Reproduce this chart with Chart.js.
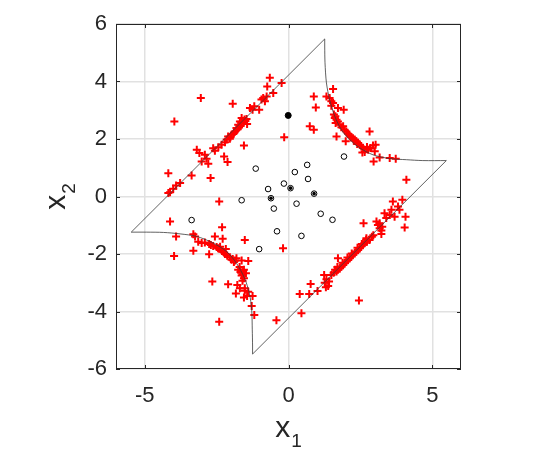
<!DOCTYPE html>
<html>
<head>
<meta charset="utf-8">
<script src="https://cdn.jsdelivr.net/npm/chart.js@4"></script>
<style>
html,body{margin:0;padding:0;background:#fff;}
#wrap{width:541px;height:452px;}
</style>
</head>
<body>
<div id="wrap"><canvas id="c" width="541" height="452"></canvas></div>
<script>
// ---- data ----
const xTicks = [-5, 0, 5];
const yTicks = [-6, -4, -2, 0, 2, 4, 6];
const xLabel = ["x", "1"];
const yLabel = ["x", "2"];

// red "+" samples
const redPlus = [
  // upper-left branch
  [-0.65,4.13],[-0.24,3.95],[-0.74,3.83],[-0.53,3.60],[-0.88,3.43],[-0.94,3.37],[-0.76,3.48],[-0.82,3.31],
  [-3.05,3.43],[-1.94,3.23],[-1.34,3.08],[-1.19,3.14],[-1.25,3.02],[-1.02,3.02],[-3.97,2.61],
  [-1.63,2.73],[-1.69,2.61],[-1.75,2.50],[-1.81,2.38],[-1.58,2.56],[-1.44,2.52],[-1.86,2.26],[-1.98,2.15],
  [-2.10,2.09],[-2.15,1.98],[-2.21,1.89],[-2.04,2.01],[-1.92,2.17],[-1.72,2.40],[-1.50,2.63],[-1.53,2.68],
  [-1.66,2.46],[-1.78,2.33],[-1.90,2.22],[-2.02,2.06],[-1.46,2.70],
  [-0.15,2.06],[-1.55,1.77],[-2.33,1.80],[-2.44,1.71],[-2.62,1.68],[-2.56,1.59],[-3.19,1.63],[-3.10,1.51],
  [-2.91,1.45],[-2.85,1.31],[-3.02,1.22],[-2.79,1.14],[-2.24,1.39],[-2.12,1.20],[-3.37,0.73],[-4.18,0.81],
  [-2.71,0.64],[-3.77,0.47],[-3.91,0.38],[-4.01,0.27],[-4.12,0.15],[-4.18,0.12],[-2.41,-0.17],
  // upper-right branch
  [1.55,3.74],[0.88,3.48],[1.32,3.48],[1.43,3.43],[1.49,3.31],[1.55,3.25],[0.95,3.10],[1.72,3.08],[1.92,3.02],
  [1.49,3.16],[1.61,2.73],[1.67,2.67],[1.72,2.61],[1.64,2.56],[0.74,2.44],[0.88,2.32],[1.90,2.44],[1.95,2.32],
  [2.01,2.26],[2.07,2.18],[2.13,2.11],[2.19,2.07],[2.24,2.03],[2.30,1.98],[2.36,1.92],[2.42,1.86],[2.48,1.80],
  [2.53,1.74],[2.59,1.69],[2.73,1.72],[2.85,1.69],[2.94,1.77],[3.03,1.80],[2.82,2.26],[1.67,2.09],[1.99,1.92],
  [3.00,1.57],[2.57,1.53],[2.65,1.55],[3.17,1.36],[2.96,1.22],[3.52,1.34],[3.73,1.31],
  [1.58,2.85],[1.63,2.79],[1.78,2.50],[1.84,2.41],[2.27,1.95],[2.39,1.83],[2.77,1.63],
  // lower-left branch
  [-4.12,-0.87],[-2.31,-1.07],[-3.91,-1.39],[-3.31,-1.31],[-3.25,-1.39],[-2.56,-1.39],[-2.29,-1.47],[-1.52,-1.51],
  [-3.14,-1.57],[-3.02,-1.62],[-2.91,-1.60],[-2.76,-1.65],[-2.62,-1.72],[-2.50,-1.76],[-2.41,-1.82],[-2.33,-1.86],
  [-2.18,-1.83],[-2.21,-2.00],[-2.13,-2.06],[-2.04,-2.11],[-1.94,-2.17],[-1.86,-2.23],[-1.81,-2.15],[-1.63,-2.23],
  [-1.40,-2.24],[-3.31,-1.89],[-3.98,-2.07],[-2.76,-2.01],[-1.75,-2.55],[-1.67,-2.63],[-1.55,-2.55],[-1.48,-2.67],
  [-1.63,-2.75],[-1.55,-2.84],[-1.60,-2.93],[-2.65,-2.96],[-2.10,-3.05],[-1.78,-3.08],[-1.69,-3.19],[-1.83,-3.37],
  [-1.52,-3.19],[-1.40,-3.31],[-1.55,-3.51],[-1.44,-3.46],[-1.25,-3.46],[-1.28,-3.81],[-1.19,-4.12],[-2.41,-4.36],
  [-0.42,-4.30],[-2.70,-1.69],[-2.45,-1.80],[-2.26,-1.93],[-1.98,-2.20],[-1.90,-2.28],[-1.70,-2.45],[-1.58,-2.60],
  [-1.60,-2.70],[-1.52,-3.28],[-2.38,-1.75],
  // lower-right branch
  [4.10,0.58],[3.63,-0.17],[3.96,-0.11],[3.58,-0.46],[3.81,-0.35],[3.86,-0.46],[3.52,-0.64],[3.69,-0.70],
  [3.34,-0.58],[3.40,-0.75],[4.07,-0.70],[2.61,-0.93],[3.06,-0.87],[3.11,-0.99],[3.17,-1.10],[3.23,-1.18],
  [3.26,-1.05],[3.17,-0.93],[4.04,-1.08],[3.23,-1.30],
  [2.82,-1.51],[2.73,-1.57],[2.65,-1.62],[2.59,-1.68],[2.53,-1.74],[2.48,-1.80],[2.42,-1.86],[2.36,-1.92],
  [2.30,-1.97],[2.24,-2.03],[2.19,-2.09],[2.13,-2.15],[2.07,-2.21],[2.01,-2.26],[1.95,-2.32],[1.90,-2.38],
  [1.84,-2.44],[1.78,-2.50],[1.72,-2.55],[1.67,-2.61],[1.57,-2.65],[1.49,-2.73],[1.24,-2.73],[1.32,-2.88],
  [1.41,-2.96],[1.26,-3.00],[1.38,-3.11],[1.30,-3.16],[1.72,-2.15],[0.77,-3.04],[1.01,-3.29],[0.39,-3.39],
  [0.72,-3.39],[2.45,-3.62],[0.45,-4.06],[-0.19,-1.80],
  [2.70,-1.50],[2.55,-1.65],[2.40,-1.78],[2.20,-1.98],[2.05,-2.12],[1.88,-2.30],[1.70,-2.45],[1.62,-2.55],
  [2.90,-1.40],[2.95,-1.35],[2.71,-1.45]
];

// black open circles
const openCircles = [
  [-1.14,0.97],[0.65,1.10],[0.22,0.85],[0.68,0.61],[1.93,1.39],[-0.16,0.45],[-0.71,0.26],[0.07,0.29],
  [0.89,0.10],[-1.63,-0.13],[-0.61,-0.06],[-0.51,-0.42],[0.28,-0.25],[1.12,-0.60],[1.53,-0.81],[-3.37,-0.82],
  [-0.40,-1.21],[0.45,-1.37],[-1.02,-1.83]
];
// black filled markers
const filledDots = [[-0.01,2.82]];
const smallDots = [[0.07,0.29],[0.89,0.10],[-0.61,-0.06]];

// boundary: two curved edges and two straight edges
const curveUpperRight = [
  [1.26,5.48],[1.26,5.20],[1.27,4.65],[1.32,3.95],[1.43,3.37],[1.61,2.79],[1.84,2.32],[2.13,1.98],
  [2.48,1.69],[2.94,1.45],[3.52,1.32],[4.10,1.28],[4.67,1.25],[5.49,1.25]
];
const curveLowerLeft = [
  [-1.25,-5.48],[-1.25,-5.20],[-1.26,-4.64],[-1.28,-3.95],[-1.36,-3.37],[-1.53,-2.84],[-1.81,-2.32],[-2.15,-1.92],
  [-2.62,-1.62],[-3.19,-1.39],[-3.77,-1.30],[-4.35,-1.25],[-4.93,-1.24],[-5.47,-1.24]
];
const edgeUpperLeft = [[-5.47,-1.24],[1.26,5.48]];
const edgeLowerRight = [[5.49,1.25],[-1.25,-5.48]];

// ---- chart ----
const toXY = a => a.map(p => ({x: p[0], y: p[1]}));
const AX = '#262626';
const FONT = '"Liberation Sans", Arial, Helvetica, sans-serif';

const lineDs = (pts, tension) => ({
  data: toXY(pts), showLine: true, borderColor: '#3a3a3a', borderWidth: 0.8,
  pointRadius: 0, fill: false, tension: tension, order: 0
});

const boxPlugin = {
  id: 'box',
  afterDraw(chart) {
    const {ctx, chartArea: a, scales} = chart;
    ctx.save();
    ctx.strokeStyle = AX;
    ctx.lineWidth = 1;
    ctx.beginPath();
    // inward ticks
    xTicks.forEach(v => {
      const px = Math.round(scales.x.getPixelForValue(v)) + 0.5;
      ctx.moveTo(px, a.bottom); ctx.lineTo(px, a.bottom - 4);
      ctx.moveTo(px, a.top); ctx.lineTo(px, a.top + 4);
    });
    yTicks.forEach(v => {
      const py = Math.round(scales.y.getPixelForValue(v)) + 0.5;
      ctx.moveTo(a.left, py); ctx.lineTo(a.left + 4, py);
      ctx.moveTo(a.right, py); ctx.lineTo(a.right - 4, py);
    });
    ctx.stroke();
    ctx.strokeRect(a.left + 0.5, a.top + 0.5, a.right - a.left - 1, a.bottom - a.top - 1);
    // axis labels with subscripts
    ctx.fillStyle = AX;
    ctx.textBaseline = 'alphabetic';
    ctx.textAlign = 'left';
    const big = '30px ' + FONT, small = '19px ' + FONT;
    ctx.font = big;
    const wx = ctx.measureText(xLabel[0]).width;
    ctx.font = small;
    const w1 = ctx.measureText(xLabel[1]).width;
    const cx = (a.left + a.right) / 2;
    const x0 = cx - (wx + 1 + w1) / 2;
    ctx.font = big; ctx.fillText(xLabel[0], x0, 437);
    ctx.font = small; ctx.fillText(xLabel[1], x0 + wx + 1, 447);
    // y label rotated
    ctx.font = big;
    const wy = ctx.measureText(yLabel[0]).width;
    ctx.font = small;
    const w2 = ctx.measureText(yLabel[1]).width;
    const cy = (a.top + a.bottom) / 2;
    ctx.translate(65, cy + (wy + 1 + w2) / 2);
    ctx.rotate(-Math.PI / 2);
    ctx.font = big; ctx.fillText(yLabel[0], 0, 0);
    ctx.font = small; ctx.fillText(yLabel[1], wy + 1, 10);
    ctx.restore();
  }
};

new Chart(document.getElementById('c'), {
  type: 'scatter',
  data: {
    datasets: [
      lineDs(curveUpperRight, 0.3),
      lineDs(curveLowerLeft, 0.3),
      lineDs(edgeUpperLeft, 0),
      lineDs(edgeLowerRight, 0),
      { data: toXY(filledDots), pointStyle: 'circle', pointRadius: 3, backgroundColor: '#000', borderColor: '#000', borderWidth: 1, order: 1 },
      { data: toXY(smallDots), pointStyle: 'circle', pointRadius: 1.8, backgroundColor: '#000', borderColor: '#000', borderWidth: 0, order: 1 },
      { data: toXY(openCircles), pointStyle: 'circle', pointRadius: 2.8, backgroundColor: 'rgba(0,0,0,0)', borderColor: '#000', borderWidth: 1, order: 2 },
      { data: toXY(redPlus), pointStyle: 'cross', pointRadius: 4, borderColor: '#ff0000', backgroundColor: '#ff0000', borderWidth: 2, order: 3 }
    ]
  },
  options: {
    responsive: false,
    animation: false,
    devicePixelRatio: 1,
    layout: { padding: { top: 24, right: 80, left: 0, bottom: 0 } },
    plugins: { legend: { display: false }, tooltip: { enabled: false } },
    elements: { point: { hoverRadius: 4 } },
    scales: {
      x: {
        type: 'linear', min: -6, max: 6,
        afterBuildTicks: s => { s.ticks = xTicks.map(v => ({ value: v })); },
        afterFit: s => { s.height = 83; },
        grid: { color: '#e1e1e1', lineWidth: 1.5, drawTicks: false },
        border: { display: false },
        ticks: { color: AX, font: { size: 22, family: FONT }, padding: 14, maxRotation: 0, callback: v => String(v) }
      },
      y: {
        type: 'linear', min: -6, max: 6,
        afterBuildTicks: s => { s.ticks = yTicks.map(v => ({ value: v })); },
        afterFit: s => { s.width = 116; },
        grid: { color: '#e1e1e1', lineWidth: 1.5, drawTicks: false },
        border: { display: false },
        ticks: { color: AX, font: { size: 22, family: FONT }, padding: 9, callback: v => String(v) }
      }
    }
  },
  plugins: [boxPlugin]
});
</script>
</body>
</html>
